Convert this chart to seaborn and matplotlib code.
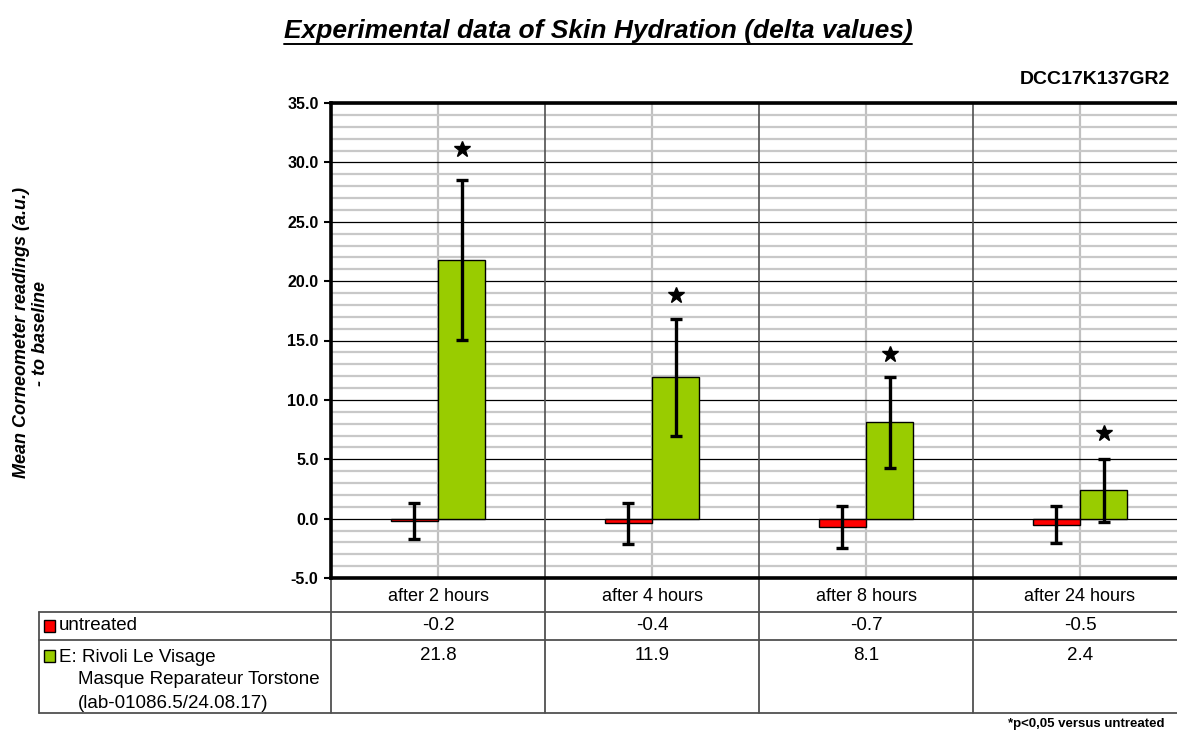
import numpy as np
import pandas as pd
import matplotlib
matplotlib.use('Agg')
import matplotlib.pyplot as plt
from matplotlib.ticker import MultipleLocator
from matplotlib.patches import Rectangle
from matplotlib.lines import Line2D
import seaborn as sns

sns.set_style('white')
plt.rcParams['font.family'] = ['Liberation Sans', 'DejaVu Sans']
plt.rcParams['text.color'] = 'black'
plt.rcParams['xtick.color'] = 'black'
plt.rcParams['ytick.color'] = 'black'

categories = ['after 2 hours', 'after 4 hours', 'after 8 hours', 'after 24 hours']
series = ['untreated', 'E: Rivoli Le Visage']
untreated = [-0.2, -0.4, -0.7, -0.5]
treated = [21.8, 11.9, 8.1, 2.4]
untreated_sd = [1.5, 1.7, 1.8, 1.55]
treated_sd = [6.75, 4.95, 3.85, 2.65]
star_y = [31.1, 18.8, 13.9, 7.2]
row_labels = ['untreated',
              ['E: Rivoli Le Visage', 'Masque Reparateur Torstone',
               '(lab-01086.5/24.08.17)']]
colors = ['#ff0000', '#99cc00']

df = pd.DataFrame({
    'time': categories * 2,
    'group': [series[0]] * 4 + [series[1]] * 4,
    'value': untreated + treated,
})

W, H = 1177, 731
fig = plt.figure(figsize=(W / 100, H / 100), dpi=100)

# pixel helper axes for table / annotations
pax = fig.add_axes([0, 0, 1, 1])
pax.set_xlim(0, W)
pax.set_ylim(H, 0)
pax.axis('off')

left, right, top, bottom = 331, 1187, 103, 578
ax = fig.add_axes([left / W, (H - bottom) / H, (right - left) / W, (bottom - top) / H])

sns.barplot(data=df, x='time', y='value', hue='group', palette=colors,
            saturation=1, width=0.44, edgecolor='black', linewidth=1, ax=ax,
            legend=False, errorbar=None, zorder=3)

xs = np.arange(len(categories))
ax.errorbar(xs - 0.11, untreated, yerr=untreated_sd, fmt='none', ecolor='black',
            elinewidth=2.4, capsize=4.5, capthick=2.4, zorder=4)
ax.errorbar(xs + 0.11, treated, yerr=treated_sd, fmt='none', ecolor='black',
            elinewidth=2.4, capsize=4.5, capthick=2.4, zorder=4)
ax.plot(xs + 0.11, star_y, linestyle='none', marker='*', color='black',
        markersize=12, zorder=5)

ax.set_xlim(-0.5, 3.5)
ax.set_ylim(-5, 35)
ax.yaxis.set_major_locator(MultipleLocator(5))
ax.yaxis.set_minor_locator(MultipleLocator(1))
ax.set_axisbelow(True)
ax.grid(which='minor', axis='y', color='#c8c8c8', lw=1.6, zorder=0)
ax.grid(which='major', axis='y', color='black', lw=0.9, zorder=1)
for x in xs:
    ax.axvline(x, color='#c0c0c0', lw=1.6, zorder=0)
for x in xs[:-1] + 0.5:
    ax.axvline(x, color='#505050', lw=1.2, zorder=1)

ax.set_yticks(np.arange(-5, 36, 5))
ax.set_yticklabels([f'{v:.1f}' for v in np.arange(-5, 36, 5)],
                   fontweight='bold', fontsize=11.5)
ax.tick_params(axis='y', which='major', length=5, width=1.5, pad=4, left=True)
ax.tick_params(axis='y', which='minor', length=0)
ax.tick_params(axis='x', length=0, pad=7, labelsize=13)
ax.set_xlabel('')
ax.set_ylabel('')
for s in ['left', 'top', 'bottom']:
    ax.spines[s].set_linewidth(2.6)
    ax.spines[s].set_color('black')
ax.spines['right'].set_visible(False)

# table
lc = '#505050'
lw = 1.3
fs = 13.5
for y in [612, 640, 713]:
    pax.add_line(Line2D([39, W], [y, y], color=lc, lw=lw))
pax.add_line(Line2D([39, 39], [612, 713], color=lc, lw=lw))
for x in [331, 545, 759, 973]:
    pax.add_line(Line2D([x, x], [578, 713], color=lc, lw=lw))

col_x = [438, 652, 866, 1080]
pax.add_patch(Rectangle((44, 620), 11, 12, facecolor=colors[0], edgecolor='black', lw=1))
pax.add_patch(Rectangle((44, 650), 11, 12, facecolor=colors[1], edgecolor='black', lw=1))
pax.text(59, 626, row_labels[0], fontsize=fs, va='center', ha='left')
pax.text(59, 657, row_labels[1][0], fontsize=fs, va='center', ha='left')
pax.text(78, 680, row_labels[1][1], fontsize=fs, va='center', ha='left')
pax.text(78, 703, row_labels[1][2], fontsize=fs, va='center', ha='left')
for cx, u, t in zip(col_x, untreated, treated):
    pax.text(cx, 626, f'{u:.1f}', fontsize=fs, va='center', ha='center')
    pax.text(cx, 655, f'{t:.1f}', fontsize=fs, va='center', ha='center')

# titles
title = pax.text(598, 31, 'Experimental data of Skin Hydration (delta values)',
                 fontsize=19, fontweight='bold', fontstyle='italic',
                 ha='center', va='center')
pax.text(1170, 80, 'DCC17K137GR2', fontsize=14, fontweight='bold',
         ha='right', va='center')
pax.text(31, 333, 'Mean Corneometer readings (a.u.)\n- to baseline', fontsize=13,
         fontweight='bold', fontstyle='italic', rotation=90, ha='center',
         va='center', linespacing=1.2)
pax.text(1165, 724, '*p<0,05 versus untreated', fontsize=9.5, fontweight='bold',
         ha='right', va='center')

# underline the title
fig.canvas.draw()
bb = title.get_window_extent()
yline = H - bb.y0 + 1
pax.add_line(Line2D([bb.x0, bb.x1], [yline, yline], color='black', lw=1.4))

fig.savefig('out.png', dpi=100)
